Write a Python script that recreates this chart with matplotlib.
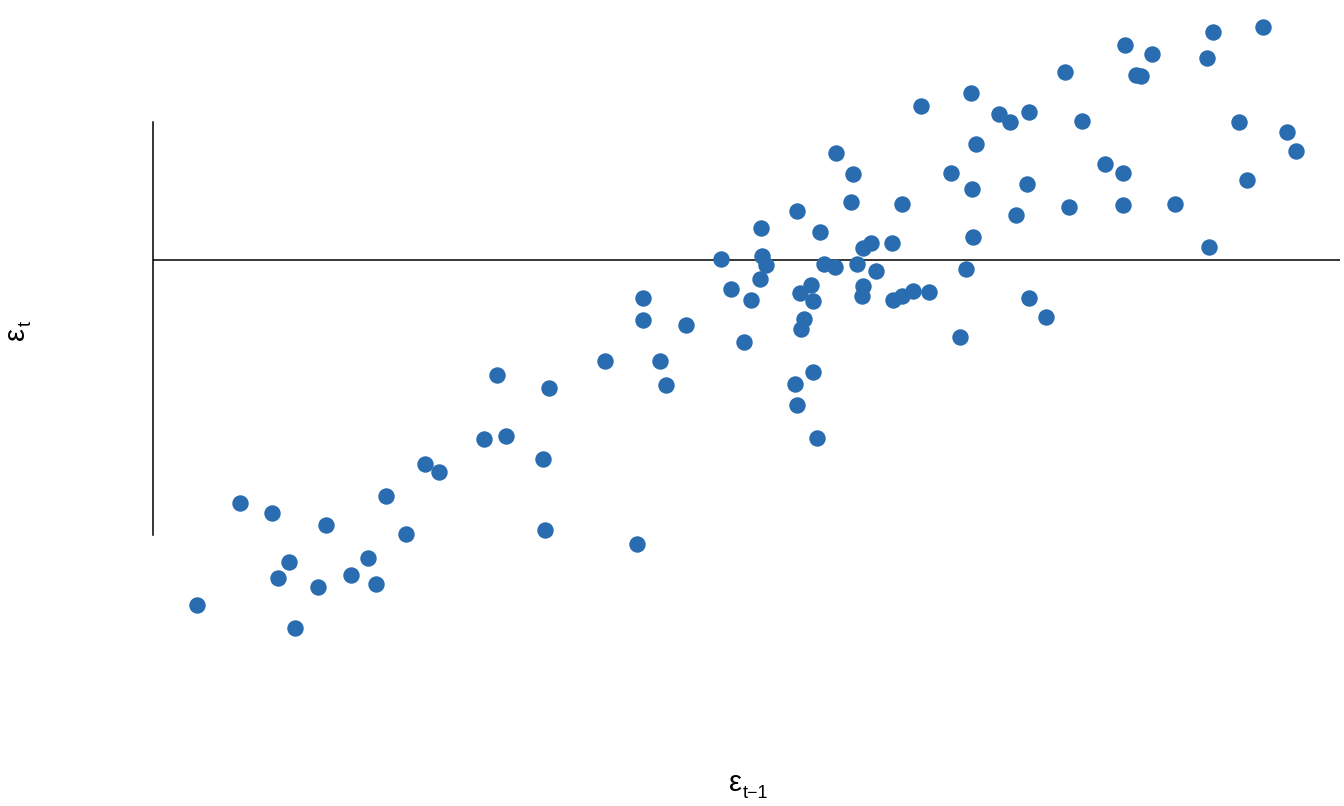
import matplotlib
matplotlib.use('Agg')
import matplotlib.pyplot as plt
import numpy as np

plt.rcParams['font.family'] = ['Liberation Sans', 'DejaVu Sans']

# lagged residuals: eps_{t-1} (x) against eps_t (y)
eps_lag = [-5.43, -5.00, -4.68, -4.62, -4.51, -4.45, -4.22, -4.14, -3.89, -3.72,
           -3.64, -3.54, -3.34, -3.15, -3.01, -2.56, -2.34, -2.43, -1.97, -1.91,
           -1.95, -1.35, -1.03, -0.97, -0.97, -0.80, -0.74, -0.54, -0.19, 0.22,
           0.26, 0.20, -0.09, 0.11, 0.04, 0.21, 0.57, 0.80, 0.96, 1.13,
           1.11, 0.84, 0.95, 1.17, 1.36, 1.23, 1.31, 1.52, 1.23, 1.22,
           1.53, 1.62, 1.73, 1.89, 0.60, 0.71, 0.73, 0.64, 0.61, 0.73,
           0.55, 0.57, 0.77, 1.62, 2.20, 2.26, 2.33, 2.32, 2.11, 2.36,
           1.81, 2.31, 2.59, 2.70, 2.89, 2.87, 2.76, 2.89, 3.06, 3.25,
           3.42, 3.29, 3.65, 3.83, 3.83, 3.85, 4.12, 3.96, 4.01, 4.35,
           4.73, 5.23, 4.67, 4.99, 5.47, 5.56, 5.07, 4.69]
eps_t = [-3.45, -2.43, -2.53, -3.18, -3.02, -3.68, -3.27, -2.65, -3.15, -2.98,
         -3.24, -2.36, -2.74, -2.04, -2.12, -1.79, -1.76, -1.15, -1.99, -1.28,
         -2.70, -1.01, -2.84, -0.38, -0.60, -1.01, -1.25, -0.65, 0.01, 0.04,
         -0.05, -0.19, -0.29, -0.40, -0.82, 0.32, 0.49, 0.28, 1.07, 0.86,
         0.58, -0.04, -0.07, -0.04, -0.11, 0.12, 0.17, 0.17, -0.26, -0.36,
         -0.40, -0.36, -0.31, -0.32, -0.33, -0.25, -0.41, -0.59, -0.69, -1.12,
         -1.24, -1.45, -1.78, 0.56, -0.77, -0.09, 0.23, 0.71, 0.87, 1.16,
         1.54, 1.67, 1.46, 1.38, 1.48, 0.76, 0.45, -0.38, -0.57, 1.88,
         1.39, 0.53, 0.96, 0.87, 0.55, 2.15, 2.06, 1.85, 1.84, 0.56,
         2.28, 2.33, 2.02, 1.38, 1.28, 1.09, 0.80, 0.13]

W, H = 1344, 806
fig = plt.figure(figsize=(W / 100, H / 100), dpi=100)
ax = fig.add_axes([153 / W, 66 / H, 1187 / W, 730 / H])

ax.scatter(eps_lag, eps_t, s=140, color='#2a6cb0', linewidth=0, zorder=3)
ax.axhline(0, color='black', linewidth=1.1, zorder=2)

ax.set_xlim(-5.87, 6.00)
ax.set_ylim(-4.80, 2.50)
for side in ['top', 'right', 'bottom']:
    ax.spines[side].set_visible(False)
ax.spines['left'].set_bounds(-2.75, 1.38)
ax.spines['left'].set_linewidth(1.1)
ax.set_xticks([])
ax.set_yticks([])

# axis labels: epsilon with a separately placed subscript
fig.text(742 / W, 1 - 791 / H, 'ε', ha='right', va='baseline', fontsize=21)
fig.text(743 / W, 1 - 798 / H, 't\u22121', ha='left', va='baseline', fontsize=13)
fig.text(24 / W, 1 - 340 / H, 'ε', ha='left', va='baseline', fontsize=21,
         rotation=90, rotation_mode='anchor')
fig.text(31 / W, 1 - 326 / H, 't', ha='left', va='baseline', fontsize=13,
         rotation=90, rotation_mode='anchor')

fig.savefig('out.png', dpi=100)
